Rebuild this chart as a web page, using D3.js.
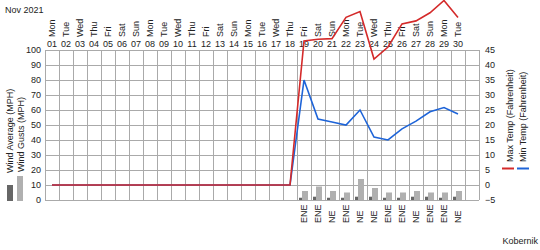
<!DOCTYPE html>
<html lang="en">
<head>
    <meta charset="UTF-8">
    <title>Nov 2021 weather</title>
    <script src="https://d3js.org/d3.v7.min.js"></script>
    <style>
        body { margin: 0; background: #fff; }
        svg { display: block; font-family: "Liberation Sans", Arial, sans-serif; }
        .lbl { font-size: 9px; fill: #222; }
        .grid line { stroke: #aaa; stroke-width: 1; shape-rendering: crispEdges; }
        .temp-line { fill: none; stroke-width: 1.6; }
    </style>
</head>
<body>
    <svg width="540" height="250"></svg>

    <script>
        // Day labels along the top
        const days = ["01","02","03","04","05","06","07","08","09","10","11","12","13","14","15",
                      "16","17","18","19","20","21","22","23","24","25","26","27","28","29","30"];
        const weekdays = ["Mon","Tue","Wed","Thu","Fri","Sat","Sun","Mon","Tue","Wed","Thu","Fri","Sat","Sun","Mon",
                          "Tue","Wed","Thu","Fri","Sat","Sun","Mon","Tue","Wed","Thu","Fri","Sat","Sun","Mon","Tue"];

        // Temperatures (Fahrenheit, right axis)
        const maxTemp = [0,0,0,0,0,0,0,0,0,0,0,0,0,0,0,0,0,0,
                         48,48.6,48.8,55.9,57.8,42,46,53.7,54.7,57.4,61.5,55.8];
        const minTemp = [0,0,0,0,0,0,0,0,0,0,0,0,0,0,0,0,0,0,
                         35,22,21,20,25,16,15,18.7,21.3,24.4,25.8,23.7];

        // Wind (MPH, left axis) - only recorded from the 19th
        const windDays = [19,20,21,22,23,24,25,26,27,28,29,30];
        const windGust = [6,9,6,5,14,8,5,5,6,5,5,6];
        const windAvg  = [1.5,2.2,1.5,1.5,2.2,2.2,1.5,1.5,2.2,2.2,1.5,2.2];
        const windDir  = ["ENE","ENE","NE","ENE","NE","NE","ENE","ENE","NE","ENE","ENE","NE"];

        const leftTicks = d3.range(0, 101, 10);
        const rightTicks = d3.range(-5, 46, 5);

        const svg = d3.select("svg");

        // Scales: one column per day plus a spare column on the right
        const x = d3.scaleLinear().domain([0.5, 31.5]).range([45, 479]);
        const yL = d3.scaleLinear().domain([0, 100]).range([200, 50]);
        const yR = d3.scaleLinear().domain([-5, 45]).range([200, 50]);

        // Grid
        const grid = svg.append("g").attr("class", "grid");
        grid.selectAll(".v").data(d3.range(0.5, 32, 1)).join("line")
            .attr("x1", d => Math.round(x(d)) + 0.5).attr("x2", d => Math.round(x(d)) + 0.5)
            .attr("y1", yL(100)).attr("y2", yL(0));
        grid.selectAll(".h").data(leftTicks).join("line")
            .attr("x1", x(0.5)).attr("x2", x(31.5))
            .attr("y1", d => yL(d) + 0.5).attr("y2", d => yL(d) + 0.5);

        // Left axis
        const axL = svg.append("g").attr("transform", "translate(45,0)")
            .call(d3.axisLeft(yL).tickValues(leftTicks).tickSize(0).tickPadding(4));
        axL.select(".domain").remove();
        axL.selectAll("text").attr("class", "lbl").attr("font-family", null).attr("font-size", null);

        // Right axis
        const axR = svg.append("g").attr("transform", "translate(479,0)")
            .call(d3.axisRight(yR).tickValues(rightTicks).tickSize(0).tickPadding(6));
        axR.select(".domain").remove();
        axR.selectAll("text").attr("class", "lbl").attr("font-family", null).attr("font-size", null);

        // Top labels
        svg.append("text").attr("class", "lbl").attr("x", 5).attr("y", 13).text("Nov 2021");
        svg.selectAll(".dnum").data(days).join("text")
            .attr("class", "lbl").attr("text-anchor", "middle")
            .attr("x", (d, i) => x(i + 1)).attr("y", 46.5).text(d => d);
        svg.selectAll(".wday").data(weekdays).join("text")
            .attr("class", "lbl")
            .attr("transform", (d, i) => `translate(${x(i + 1) + 3},37) rotate(-90)`)
            .text(d => d);

        // Wind bars
        svg.selectAll(".avg").data(windDays).join("rect")
            .attr("fill", "#666")
            .attr("x", d => x(d) - 5).attr("width", 5)
            .attr("y", (d, i) => yL(windAvg[i])).attr("height", (d, i) => yL(0) - yL(windAvg[i]));
        svg.selectAll(".gust").data(windDays).join("rect")
            .attr("fill", "#b0b0b0")
            .attr("x", d => x(d) - 2).attr("width", 6)
            .attr("y", (d, i) => yL(windGust[i])).attr("height", (d, i) => yL(0) - yL(windGust[i]));

        // Wind direction
        svg.selectAll(".dir").data(windDays).join("text")
            .attr("class", "lbl").attr("font-size", "8px")
            .attr("transform", d => `translate(${x(d) + 3},223) rotate(-90)`)
            .text((d, i) => windDir[i]);

        // Temperature lines
        const line = d3.line().x((d, i) => x(i + 1)).y(d => yR(d));
        svg.append("path").datum(minTemp).attr("class", "temp-line")
            .attr("stroke", "#1e64d8").attr("d", line);
        svg.append("path").datum(maxTemp).attr("class", "temp-line")
            .attr("stroke", "#d42a2a").attr("d", line);

        // Left legend
        svg.append("text").attr("class", "lbl")
            .attr("transform", "translate(13,173) rotate(-90)").text("Wind Average (MPH)");
        svg.append("text").attr("class", "lbl")
            .attr("transform", "translate(23.5,172) rotate(-90)").text("Wind Gusts (MPH)");
        svg.append("rect").attr("x", 7).attr("y", 185).attr("width", 6).attr("height", 16).attr("fill", "#666");
        svg.append("rect").attr("x", 17).attr("y", 176).attr("width", 6).attr("height", 25).attr("fill", "#b0b0b0");

        // Right legend
        svg.append("text").attr("class", "lbl")
            .attr("transform", "translate(513,162) rotate(-90)").text("Max Temp (Fahrenheit)");
        svg.append("text").attr("class", "lbl")
            .attr("transform", "translate(526,162) rotate(-90)").text("Min Temp (Fahrenheit)");
        svg.append("line").attr("x1", 502).attr("x2", 514).attr("y1", 168.5).attr("y2", 168.5)
            .attr("stroke", "#d42a2a").attr("stroke-width", 2);
        svg.append("line").attr("x1", 517).attr("x2", 529).attr("y1", 168.5).attr("y2", 168.5)
            .attr("stroke", "#1e64d8").attr("stroke-width", 2);

        svg.append("text").attr("class", "lbl").attr("text-anchor", "end")
            .attr("x", 538).attr("y", 244).text("Kobernik");
    </script>
</body>
</html>
